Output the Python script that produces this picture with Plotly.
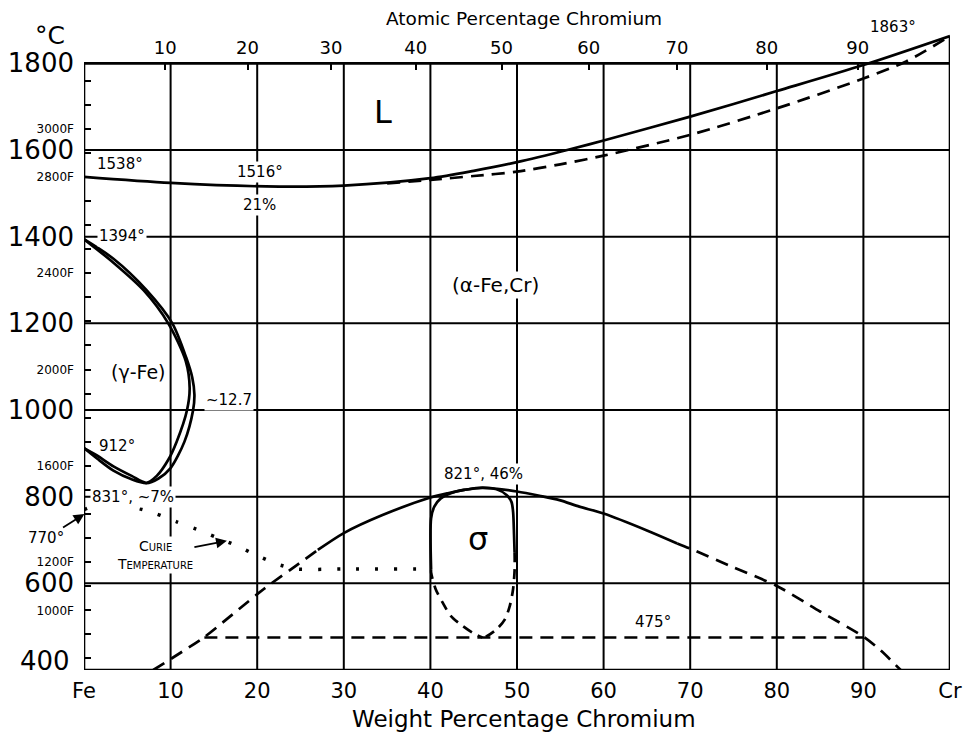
import plotly.graph_objects as go

FONT = "DejaVu Sans"

# ---------------- data (wt% Cr, temperature degC) ----------------
liq_wt = [0, 10, 21, 30, 40, 45, 50, 55.8, 60, 70, 80, 90, 100]
liq_T = [1538, 1524, 1516, 1518, 1535, 1552, 1572, 1600, 1622, 1677, 1736, 1796, 1863]

sol_wt = [35, 40, 45, 50, 55, 60, 70, 80, 90, 95, 100]
sol_T = [1523, 1531, 1540, 1550, 1567, 1587, 1635, 1696, 1765, 1805, 1863]

gout_wt = [0, 1.5, 3.4, 5.5, 7.2, 8.6, 10.0, 11.6, 12.6, 12.75, 12.5, 11.8, 10.2, 7.25, 3.4, 0]
gout_T = [912, 888, 860, 840, 831, 842, 866, 927, 1000, 1035, 1075, 1121, 1200, 1276, 1349, 1394]

gin_wt = [0, 1.5, 3.4, 5.5, 7.2, 8.4, 9.7, 10.7, 11.9, 12.2, 11.75, 9.73, 6.9, 3.4, 0]
gin_T = [912, 895, 870, 848, 832, 848, 884, 927, 1000, 1051, 1113, 1200, 1276, 1340, 1394]

# alpha / (alpha + sigma) boundary
bigL_wt = [8.0, 13.9, 20, 21.5, 24.5, 27]
bigL_T = [400, 476, 575, 598, 641, 677]
bigM_wt = [27, 30, 34.4, 40, 42, 43.9, 46, 47.7, 50, 52.6, 54.9, 57.2, 60, 65, 68.5]
bigM_T = [677, 716, 757, 798, 808, 815.5, 821, 818, 812, 802, 792, 777, 761, 722, 692]
bigR_wt = [68.5, 70, 75, 80, 85, 90, 92, 94.3]
bigR_T = [692, 680, 637, 594, 535, 477, 445, 400]

# sigma field
sig_wt = [40.08, 40.08, 40.45, 41.2, 42.35, 43.86, 45.8, 47.65, 48.79, 49.36, 49.55, 49.66, 49.72]
sig_T = [633, 750, 777, 796, 808, 815.5, 820, 817, 804, 788, 765, 711, 672]
sigR_wt = [49.72, 49.73, 49.55, 49.17, 48.6, 47.65, 46.5, 46.0]
sigR_T = [672, 633, 587, 548, 517, 494, 478, 475]
sigL_wt = [40.08, 40.08, 40.6, 41.4, 42.35, 43.7, 45.0, 46.0]
sigL_T = [633, 625, 587, 556, 525, 502, 484.5, 475]

eut_wt = [13.9, 90]
eut_T = [475, 475]

curie_wt = [0, 1.2, 3.6, 5.9, 8.4, 10.7, 13, 15.3, 17.6, 19.9, 22.2, 24.5, 30, 40]
curie_T = [770, 779, 783, 775, 760, 742, 725, 706, 687, 665, 645, 633, 633, 633]

# ---------------- axes ticks ----------------
wt_ticks = [0, 10, 20, 30, 40, 50, 60, 70, 80, 90, 100]
wt_labels = ["Fe", "10", "20", "30", "40", "50", "60", "70", "80", "90", "Cr"]
at_ticks = [10, 20, 30, 40, 50, 60, 70, 80, 90]
M_CR, M_FE = 51.996, 55.845
at_pos = [a * M_CR / (a * M_CR + (100 - a) * M_FE) * 100 for a in at_ticks]
c_ticks = [400, 600, 800, 1000, 1200, 1400, 1600, 1800]
f_ticks = list(range(800, 3300, 100))
f_labeled = [1000, 1200, 1600, 2000, 2400, 2800, 3000]
f_pos = [(f - 32) * 5 / 9 for f in f_ticks]
f_text = [f"{f}F" if f in f_labeled else "" for f in f_ticks]

T_MIN, T_MAX, T_TOP = 400, 1800, 1870

fig = go.Figure()

DASH = "13px,8px"
LW = 2.7


def add(x, y, dash="solid", width=LW, smoothing=0.8):
    fig.add_trace(go.Scatter(x=x, y=y, mode="lines",
                             line=dict(color="black", width=width, dash=dash,
                                       shape="spline", smoothing=smoothing),
                             hoverinfo="skip"))


add(liq_wt, liq_T)
add(sol_wt, sol_T, DASH)
add(gout_wt, gout_T)
add(gin_wt, gin_T)
add(bigL_wt, bigL_T, DASH, smoothing=0.5)
add(bigM_wt, bigM_T)
add(bigR_wt, bigR_T, DASH)
add(sig_wt, sig_T)
add(sigR_wt, sigR_T, "10px,7px")
add(sigL_wt, sigL_T, "10px,7px")
fig.add_trace(go.Scatter(x=eut_wt, y=eut_T, mode="lines",
                         line=dict(color="black", width=LW, dash=DASH), hoverinfo="skip"))
fig.add_trace(go.Scatter(x=curie_wt, y=curie_T, mode="lines",
                         line=dict(color="black", width=3.5, dash="3px,16px",
                                   shape="spline", smoothing=0.6),
                         hoverinfo="skip"))
# invisible traces to activate secondary axes
fig.add_trace(go.Scatter(x=[None], y=[None], xaxis="x2", yaxis="y", showlegend=False))
fig.add_trace(go.Scatter(x=[None], y=[None], xaxis="x", yaxis="y2", showlegend=False))

# ---------------- grid & frame ----------------
shapes = []
for v in wt_ticks[1:-1]:
    shapes.append(dict(type="line", xref="x", yref="y", x0=v, x1=v, y0=T_MIN, y1=T_MAX,
                       line=dict(color="black", width=2), layer="below"))
for t in c_ticks[1:-1]:
    shapes.append(dict(type="line", xref="x", yref="y", x0=0, x1=100, y0=t, y1=t,
                       line=dict(color="black", width=2), layer="below"))
shapes.append(dict(type="rect", xref="x", yref="y", x0=0, x1=100, y0=T_MIN, y1=T_MAX,
                   line=dict(color="black", width=2.6)))
shapes.append(dict(type="line", xref="x", yref="y", x0=100, x1=100, y0=T_MAX, y1=liq_T[-1],
                   line=dict(color="black", width=2.6)))

# ---------------- labels ----------------
ann = []


def px(wt):
    return wt / 100.0


def py(t):
    return (t - T_MIN) / (T_TOP - T_MIN)


def lab(x, y, text, size=15, bg=None, **kw):
    d = dict(x=x, y=y, xref="x", yref="y", text=text, showarrow=False,
             xanchor="center", yanchor="middle",
             font=dict(family=FONT, size=size, color="black"), borderpad=1)
    if bg:
        d["bgcolor"] = bg
    d.update(kw)
    ann.append(d)


def plab(x, y, text, size=15, **kw):
    d = dict(x=px(x), y=py(y), xref="paper", yref="paper", text=text, showarrow=False,
             xanchor="center", yanchor="middle",
             font=dict(family=FONT, size=size, color="black"))
    d.update(kw)
    ann.append(d)


lab(34.5, 1688, "L", 32)
lab(4.2, 1567, "1538°", 15)
lab(20.3, 1550, "1516°", 15, "white")
lab(20.3, 1472, "21%", 15, "white")
lab(4.4, 1402, "1394°", 15, "white")
lab(47.5, 1288, "(α-Fe,Cr)", 20, "white")
lab(6.3, 1087, "(γ-Fe)", 19)
lab(16.8, 1023, "~12.7", 15, "white")
lab(3.8, 917, "912°", 15)
lab(5.6, 800, "831°, ~7%", 15, "white")
lab(46.1, 852, "821°, 46%", 15, "white")
lab(45.5, 703, "σ", 32)
lab(65.7, 510, "475°", 15)
plab(93.4, 1883, "1863°", 15)
plab(-3.9, 1865, "°C", 25)
plab(50.8, 1904, "Atomic Percentage Chromium", 18.5)
plab(50.8, 288, "Weight Percentage Chromium", 23)
plab(-1.4, 420, "400", 26, xanchor="right")
ann.append(dict(x=0.05, y=760, xref="x", yref="y", text="770°", showarrow=True,
                ax=-38, ay=24, arrowhead=2, arrowsize=1.2, arrowwidth=1.8, arrowcolor="black",
                font=dict(family=FONT, size=15, color="black")))
ann.append(dict(x=16.5, y=698, xref="x", yref="y", text="Curie<br>Temperature", showarrow=True,
                ax=-72, ay=14, arrowhead=2, arrowsize=1.2, arrowwidth=1.8, arrowcolor="black",
                bgcolor="white", borderpad=1,
                font=dict(family=FONT, size=14, color="black", variant="small-caps")))

c_text = ["" if c == 400 else str(c) for c in c_ticks]

fig.update_layout(
    width=964, height=735,
    margin=dict(l=84, r=14, t=33, b=65, autoexpand=False),
    plot_bgcolor="white", paper_bgcolor="white",
    showlegend=False,
    shapes=shapes, annotations=ann,
    xaxis=dict(range=[0, 100], tickvals=wt_ticks, ticktext=wt_labels, showgrid=False,
               zeroline=False, showline=False, ticks="", automargin=False,
               ticklabelstandoff=6,
               tickfont=dict(family=FONT, size=21, color="black")),
    xaxis2=dict(overlaying="x", side="top", anchor="free",
                position=(T_MAX - T_MIN) / (T_TOP - T_MIN), range=[0, 100],
                tickvals=at_pos, ticktext=[str(a) for a in at_ticks],
                ticks="inside", ticklen=6, tickwidth=2, tickcolor="black",
                showgrid=False, zeroline=False, showline=False, automargin=False,
                ticklabelstandoff=6,
                tickfont=dict(family=FONT, size=18, color="black")),
    yaxis=dict(range=[T_MIN, T_TOP], tickvals=c_ticks, ticktext=c_text,
               showgrid=False, zeroline=False, showline=False, ticks="", automargin=False,
               ticklabelstandoff=9,
               tickfont=dict(family=FONT, size=26, color="black")),
    yaxis2=dict(overlaying="y", side="left", anchor="x", range=[T_MIN, T_TOP],
                tickvals=f_pos, ticktext=f_text, ticks="inside", ticklen=7, tickwidth=2,
                tickcolor="black", showgrid=False, zeroline=False, showline=False,
                automargin=False, ticklabelstandoff=9,
                tickfont=dict(family=FONT, size=12, color="black")),
)

# remove the browser's default 8px body margin so the figure fills the window exactly
fig.write_html("out.html",
               config={"displayModeBar": False, "staticPlot": True},
               post_script="document.body.style.margin='0';document.body.style.overflow='hidden';")
